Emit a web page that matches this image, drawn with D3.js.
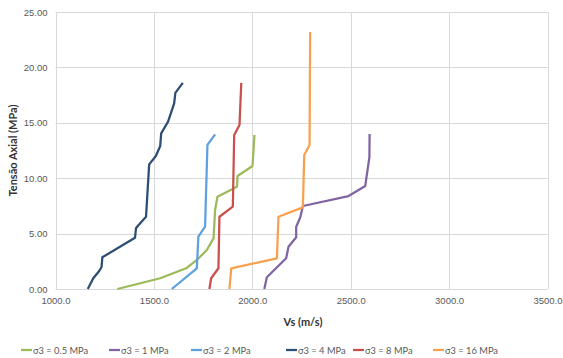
<!DOCTYPE html>
<html>
<head>
<meta charset="utf-8">
<script src="https://cdn.jsdelivr.net/npm/d3@7"></script>
<style>
  html, body { margin: 0; padding: 0; background: #fff; }
  svg { display: block; font-family: Lato, "Open Sans", "DejaVu Sans", sans-serif; }
</style>
</head>
<body>
<svg id="chart" width="563" height="358"></svg>
<script>
// Shear-wave velocity (m/s) against axial stress (MPa) for each confining stress σ3
const seriesNames = ["σ3 = 0.5 MPa", "σ3 = 1 MPa", "σ3 = 2 MPa", "σ3 = 4 MPa", "σ3 = 8 MPa", "σ3 = 16 MPa"];
const seriesColors = ["#9BBB59", "#8064A2", "#5EA0E0", "#2C4D74", "#C9504D", "#F9A04E"];

// [Vs, axial stress]
const s05 = [[1314, 0], [1532, 0.97], [1664, 1.87], [1718, 2.62], [1769, 3.52], [1803, 4.57], [1811, 7.13], [1823, 8.33], [1922, 9.23], [1925, 10.2], [2001, 11.1], [2011, 13.9]];
const s1 = [[2061, 0], [2074, 1.06], [2172, 2.77], [2184, 3.82], [2223, 4.67], [2223, 5.62], [2244, 6.47], [2257, 7.49], [2489, 8.39], [2574, 9.3], [2595, 11.9], [2596, 13.99]];
const s2 = [[1591, 0], [1718, 1.87], [1726, 4.72], [1760, 5.62], [1772, 13.0], [1811, 13.96]];
const s4 = [[1164, 0], [1192, 0.97], [1223, 1.65], [1234, 1.99], [1238, 2.86], [1404, 4.63], [1409, 5.48], [1418, 5.69], [1460, 6.52], [1476, 11.25], [1510, 12.0], [1532, 12.9], [1537, 14.05], [1572, 15.1], [1589, 16.0], [1603, 16.76], [1609, 17.7], [1647, 18.6]];
const s8 = [[1782, 0], [1791, 0.97], [1828, 1.87], [1833, 6.52], [1901, 7.43], [1908, 13.9], [1935, 14.8], [1944, 18.6]];
const s16 = [[1884, 0], [1893, 1.87], [2125, 2.77], [2133, 6.52], [2257, 7.37], [2264, 12.1], [2291, 13.0], [2294, 23.2]];
const seriesData = [s05, s1, s2, s4, s8, s16];

const xTicks = [1000, 1500, 2000, 2500, 3000, 3500];
const yTicks = [0, 5, 10, 15, 20, 25];

const svg = d3.select("#chart");
const margin = { left: 55.5, right: 15.5, top: 12, bottom: 69 };
const W = 563, H = 358;

const x = d3.scaleLinear().domain([1000, 3500]).range([margin.left, W - margin.right]);
const y = d3.scaleLinear().domain([0, 25]).range([H - margin.bottom, margin.top]);

// gridlines
const grid = svg.append("g");
grid.selectAll("line.h").data(yTicks).join("line")
  .attr("x1", x(1000)).attr("x2", x(3500))
  .attr("y1", d => Math.round(y(d)) + 0.5).attr("y2", d => Math.round(y(d)) + 0.5)
  .attr("stroke", "#D9D9D9").attr("stroke-width", 1);
grid.selectAll("line.v").data(xTicks).join("line")
  .attr("x1", d => Math.round(x(d)) + 0.5).attr("x2", d => Math.round(x(d)) + 0.5)
  .attr("y1", y(25)).attr("y2", y(0))
  .attr("stroke", "#D9D9D9").attr("stroke-width", 1);

// axes
const yAxis = d3.axisLeft(y).tickValues(yTicks).tickFormat(d3.format(".2f")).tickSize(0).tickPadding(8);
const xAxis = d3.axisBottom(x).tickValues(xTicks).tickFormat(d3.format(".1f")).tickSize(0).tickPadding(8);

const gy = svg.append("g").attr("transform", `translate(${margin.left},0)`).call(yAxis);
const gx = svg.append("g").attr("transform", `translate(0,${H - margin.bottom})`).call(xAxis);
[gx, gy].forEach(g => {
  g.select(".domain").remove();
  g.selectAll("text").attr("fill", "#595959").style("font-size", "9.5px");
});

// series lines
const line = d3.line().x(d => x(d[0])).y(d => y(d[1]));
svg.append("g").selectAll("path").data(seriesData).join("path")
  .attr("d", line)
  .attr("fill", "none")
  .attr("stroke", (d, i) => seriesColors[i])
  .attr("stroke-width", 2.25)
  .attr("stroke-linejoin", "round");

// axis titles
svg.append("text")
  .attr("transform", `translate(17,${(y(0) + y(25)) / 2}) rotate(-90)`)
  .attr("text-anchor", "middle")
  .attr("font-weight", "bold").style("font-size", "11px").attr("fill", "#333")
  .text("Tensão Axial (MPa)");
svg.append("text")
  .attr("x", 303).attr("y", 326)
  .attr("text-anchor", "middle")
  .attr("font-weight", "bold").style("font-size", "11px").attr("fill", "#333")
  .text("Vs (m/s)");

// legend
const legendX = [21, 109, 191, 286, 353, 433];
const lg = svg.append("g");
seriesNames.forEach((name, i) => {
  const g = lg.append("g").attr("transform", `translate(${legendX[i]},350)`);
  g.append("line").attr("x1", 0).attr("x2", 11).attr("y1", 0).attr("y2", 0)
    .attr("stroke", seriesColors[i]).attr("stroke-width", 2.25);
  g.append("text").attr("x", 12).attr("y", 3.5)
    .attr("fill", "#595959").style("font-size", "9.3px")
    .text(name);
});
</script>
</body>
</html>
